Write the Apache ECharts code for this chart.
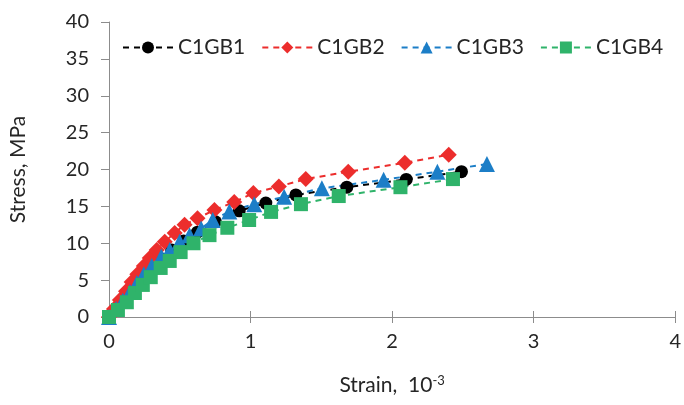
<!DOCTYPE html>
<html>
<head>
<meta charset="utf-8">
<script src="https://cdn.jsdelivr.net/npm/echarts@6/dist/echarts.min.js"></script>
<style>
  html, body { margin: 0; padding: 0; background: #fff; }
  #chart { width: 684px; height: 405px; }
</style>
</head>
<body>
<div id="chart"></div>
<script>
// strain (10^-3) and stress (MPa) per specimen
const seriesNames = ['C1GB1', 'C1GB2', 'C1GB3', 'C1GB4'];

const strainGB1 = [0, 0.05, 0.1, 0.148, 0.197, 0.253, 0.31, 0.372, 0.443, 0.527, 0.625, 0.752, 0.92, 1.108, 1.32, 1.68, 2.1, 2.49];
const stressGB1 = [0, 0.95, 2.0, 3.25, 4.35, 5.55, 6.65, 7.85, 9.1, 10.3, 11.5, 12.9, 14.4, 15.45, 16.55, 17.6, 18.65, 19.7];

const strainGB2 = [0, 0.035, 0.077, 0.12, 0.16, 0.2, 0.246, 0.288, 0.337, 0.394, 0.464, 0.534, 0.625, 0.745, 0.885, 1.02, 1.2, 1.39, 1.69, 2.09, 2.4];
const stressGB2 = [0, 1.1, 2.3, 3.5, 4.75, 5.8, 6.9, 8.0, 9.1, 10.2, 11.4, 12.5, 13.4, 14.5, 15.6, 16.8, 17.7, 18.7, 19.7, 20.9, 22.0];

const strainGB3 = [0, 0.05, 0.098, 0.148, 0.197, 0.246, 0.302, 0.37, 0.429, 0.499, 0.569, 0.651, 0.733, 0.85, 1.026, 1.237, 1.504, 1.94, 2.32, 2.67];
const stressGB3 = [0, 1.1, 2.2, 3.4, 4.6, 5.8, 6.9, 8.2, 9.1, 10.2, 11.1, 12.0, 13.15, 14.3, 15.3, 16.3, 17.45, 18.6, 19.7, 20.75];

const strainGB4 = [0, 0.063, 0.126, 0.183, 0.239, 0.295, 0.365, 0.429, 0.506, 0.597, 0.71, 0.836, 0.99, 1.145, 1.356, 1.623, 2.059, 2.43];
const stressGB4 = [0, 0.95, 2.0, 3.25, 4.35, 5.4, 6.65, 7.6, 8.8, 10.0, 11.1, 12.1, 13.15, 14.25, 15.3, 16.4, 17.6, 18.7];

const pairs = (xs, ys) => xs.map((x, i) => [x, ys[i]]);

const FONT = 'Lato';
const axisGray = '#8c8c8c';
const textColor = '#262626';

const mkSeries = (name, data, symbol, size, color) => ({
  name: name,
  type: 'line',
  data: data,
  symbol: symbol,
  symbolSize: size,
  showSymbol: true,
  lineStyle: { color: color, width: 2, type: [6, 5] },
  itemStyle: { color: color },
  emphasis: { disabled: true },
  z: 3
});

const myChart = echarts.init(document.getElementById('chart'), null, { renderer: 'canvas' });
const chartOption = {
  animation: false,
  grid: { left: 109, right: 6, top: 22, bottom: 88 },
  legend: {
    top: 32,
    left: 117,
    itemWidth: 50,
    itemHeight: 15,
    itemGap: 16,
    textStyle: { fontFamily: FONT, fontSize: 21, color: textColor },
    data: seriesNames
  },
  xAxis: [
    {
      type: 'value',
      min: 0,
      max: 4,
      interval: 1,
      name: '{a|Strain,  10}{b|-3}',
      nameLocation: 'middle',
      nameGap: 57,
      nameTextStyle: {
        rich: {
          a: { fontFamily: FONT, fontSize: 21, color: textColor },
          b: { fontFamily: FONT, fontSize: 13, color: textColor, verticalAlign: 'top', padding: [0, 0, 10, 0] }
        }
      },
      splitLine: { show: false },
      axisLine: { lineStyle: { color: axisGray, width: 1 } },
      axisTick: { show: true, length: 6, lineStyle: { color: axisGray } },
      axisLabel: { fontFamily: FONT, fontSize: 20, color: textColor, margin: 15 }
    },
    {
      // second axis only for the inner half of the crossing ticks
      type: 'value',
      min: 0,
      max: 4,
      interval: 1,
      position: 'bottom',
      splitLine: { show: false },
      axisLine: { show: false },
      axisTick: { show: true, inside: true, length: 6, lineStyle: { color: axisGray } },
      axisLabel: { show: false }
    }
  ],
  yAxis: {
    type: 'value',
    min: 0,
    max: 40,
    interval: 5,
    name: 'Stress, MPa',
    nameLocation: 'middle',
    nameGap: 80,
    nameTextStyle: { fontFamily: FONT, fontSize: 21, color: textColor },
    splitLine: { show: false },
    axisLine: { show: true, lineStyle: { color: axisGray, width: 1 } },
    axisTick: { show: true, length: 8, lineStyle: { color: axisGray } },
    axisLabel: { fontFamily: FONT, fontSize: 20, color: textColor, margin: 20 }
  },
  series: [
    mkSeries('C1GB1', pairs(strainGB1, stressGB1), 'circle', 13, '#000000'),
    mkSeries('C1GB2', pairs(strainGB2, stressGB2), 'diamond', 16, '#ec2d2c'),
    mkSeries('C1GB3', pairs(strainGB3, stressGB3), 'triangle', 16, '#1c7ec7'),
    mkSeries('C1GB4', pairs(strainGB4, stressGB4), 'rect', 14, '#2fb36a')
  ]
};
myChart.setOption(chartOption);
</script>
</body>
</html>
